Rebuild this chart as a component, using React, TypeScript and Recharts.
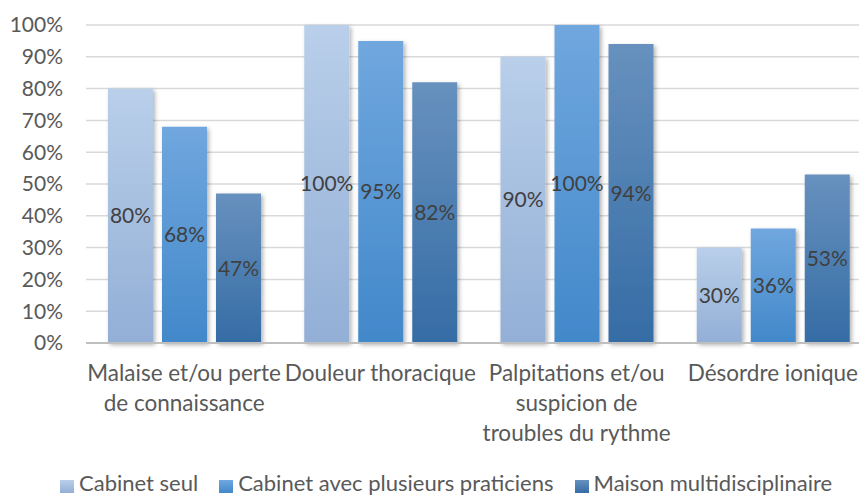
import React from "react";
import { Bar, BarChart, CartesianGrid, LabelList, Legend, XAxis, YAxis } from "recharts";

const categories = [
  "Malaise et/ou perte\nde connaissance",
  "Douleur thoracique",
  "Palpitations et/ou\nsuspicion de\ntroubles du rythme",
  "Désordre ionique",
];
const cabinetSeul = [80, 100, 90, 30];
const cabinetPlusieurs = [68, 95, 100, 36];
const maisonMulti = [47, 82, 94, 53];
const yTicks = [0, 10, 20, 30, 40, 50, 60, 70, 80, 90, 100];

const series = [
  { key: "seul", name: "Cabinet seul", top: "#b9cfea", bottom: "#93afd6" },
  { key: "plusieurs", name: "Cabinet avec plusieurs praticiens", top: "#70a7de", bottom: "#4288ca" },
  { key: "maison", name: "Maison multidisciplinaire", top: "#6791be", bottom: "#356ca5" },
];

const data = categories.map((name, i) => ({
  name,
  seul: cabinetSeul[i],
  plusieurs: cabinetPlusieurs[i],
  maison: maisonMulti[i],
}));

const CategoryTick = (props: any) => {
  const { x, y, payload } = props;
  const lines = String(payload.value).split("\n");
  return (
    <text x={x} y={y} textAnchor="middle" fill="#595959" fontSize={22.5}>
      {lines.map((line, i) => (
        <tspan key={i} x={x} dy={i === 0 ? 38 : 30}>
          {line}
        </tspan>
      ))}
    </text>
  );
};

const LegendContent = () => (
  <div style={{ display: "flex", alignItems: "center", gap: 21, fontSize: 22, lineHeight: "24px", color: "#595959", whiteSpace: "nowrap" }}>
    {series.map((s) => (
      <div key={s.key} style={{ display: "flex", alignItems: "center" }}>
        <span
          style={{
            display: "inline-block",
            width: 14,
            height: 13,
            marginRight: 5,
            marginTop: 6,
            background: `linear-gradient(${s.top}, ${s.bottom})`,
          }}
        />
        <span>{s.name}</span>
      </div>
    ))}
  </div>
);

export default function App() {
  return (
    <div
      style={{
        position: "absolute",
        left: 0,
        top: 0,
        width: 859,
        height: 496,
        overflow: "hidden",
        background: "#fff",
        fontFamily: "Lato, sans-serif",
      }}
    >
      <BarChart
        width={871}
        height={496}
        data={data}
        margin={{ top: 25, right: 0, bottom: 0, left: 0 }}
        barSize={45}
        barGap={9}
      >
        <defs>
          {series.map((s) => (
            <linearGradient key={s.key} id={`grad-${s.key}`} x1="0" y1="0" x2="0" y2="1">
              <stop offset="0%" stopColor={s.top} />
              <stop offset="100%" stopColor={s.bottom} />
            </linearGradient>
          ))}
          <filter id="shadow" x="-20%" y="-10%" width="150%" height="130%">
            <feDropShadow dx="2" dy="2" stdDeviation="2" floodColor="#000" floodOpacity="0.3" />
          </filter>
        </defs>
        <CartesianGrid vertical={false} stroke="#d9d9d9" strokeWidth={1.5} />
        <XAxis
          dataKey="name"
          height={153}
          tickLine={false}
          tickSize={0}
          tickMargin={0}
          axisLine={{ stroke: "#bfbfbf", strokeWidth: 2 }}
          tick={<CategoryTick />}
          interval={0}
        />
        <YAxis
          width={86}
          domain={[0, 100]}
          ticks={yTicks}
          tickFormatter={(v) => `${v}%`}
          tickLine={false}
          tickSize={0}
          tickMargin={23}
          axisLine={false}
          tick={{ fill: "#595959", fontSize: 21 }}
        />
        <Legend
          verticalAlign="middle"
          align="center"
          content={<LegendContent />}
          wrapperStyle={{ top: 471, left: 60, width: 800 }}
        />
        {series.map((s) => (
          <Bar
            key={s.key}
            dataKey={s.key}
            name={s.name}
            fill={`url(#grad-${s.key})`}
            filter="url(#shadow)"
            isAnimationActive={false}
          >
            <LabelList
              dataKey={s.key}
              position="center"
              formatter={(v: any) => `${v}%`}
              fill="#404040"
              fontSize={21}
            />
          </Bar>
        ))}
      </BarChart>
    </div>
  );
}
